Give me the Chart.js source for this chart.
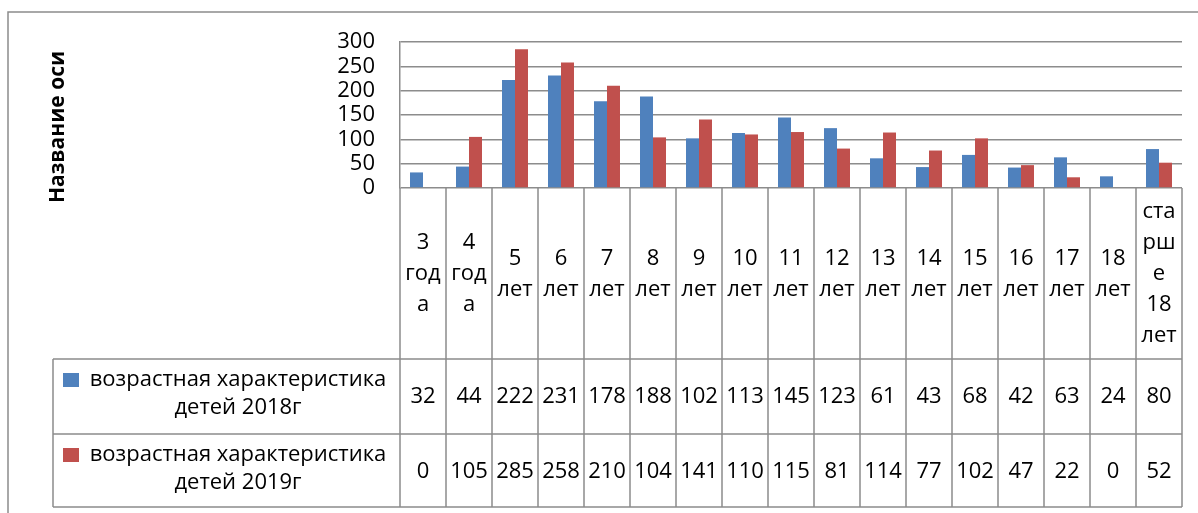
<!DOCTYPE html>
<html>
<head>
<meta charset="utf-8">
<script src="https://cdn.jsdelivr.net/npm/chart.js@4"></script>
<style>
  html, body { margin: 0; padding: 0; background: #fff; }
  #wrap { width: 1198px; height: 513px; }
</style>
</head>
<body>
<div id="wrap"><canvas id="ageChart" width="1198" height="513" aria-label="Возрастная характеристика детей" role="img"></canvas></div>
<script>
// categories (with the line breaks as they appear in the table)
const categories = ['3 года', '4 года', '5 лет', '6 лет', '7 лет', '8 лет', '9 лет', '10 лет', '11 лет',
    '12 лет', '13 лет', '14 лет', '15 лет', '16 лет', '17 лет', '18 лет', 'старше 18 лет'];
const categoryLines = [['3', 'год', 'а'], ['4', 'год', 'а'], ['5', 'лет'], ['6', 'лет'], ['7', 'лет'],
    ['8', 'лет'], ['9', 'лет'], ['10', 'лет'], ['11', 'лет'], ['12', 'лет'], ['13', 'лет'], ['14', 'лет'],
    ['15', 'лет'], ['16', 'лет'], ['17', 'лет'], ['18', 'лет'], ['ста', 'рш', 'е', '18', 'лет']];

const series2018 = [32, 44, 222, 231, 178, 188, 102, 113, 145, 123, 61, 43, 68, 42, 63, 24, 80];
const series2019 = [0, 105, 285, 258, 210, 104, 141, 110, 115, 81, 114, 77, 102, 47, 22, 0, 52];

const seriesNames = ['возрастная характеристика детей 2018г', 'возрастная характеристика детей 2019г'];
const seriesNameLines = [['возрастная характеристика', 'детей 2018г'], ['возрастная характеристика', 'детей 2019г']];
const seriesColors = ['#4F81BD', '#C0504D'];

const yTicks = [0, 50, 100, 150, 200, 250, 300];
const axisTitle = 'Название оси';

const lineColor = '#8c8c8c';
const fontFamily = '"Open Sans", "DejaVu Sans", sans-serif';

// frame, axis title and the data table under the plot
const tablePlugin = {
    id: 'excelTable',
    beforeDraw(chart) {
        const ctx = chart.ctx;
        ctx.save();
        ctx.strokeStyle = lineColor;
        ctx.lineWidth = 1.5;
        ctx.beginPath();
        ctx.moveTo(8, 513);
        ctx.lineTo(8, 12);
        ctx.lineTo(1198, 12);
        ctx.stroke();
        ctx.restore();
    },
    afterDraw(chart) {
        const ctx = chart.ctx;
        const area = chart.chartArea;
        const n = categories.length;
        const colW = (area.right - area.left) / n;
        const rowTop = [359, 434];
        const tableBottom = 507;
        const legendLeft = 53;

        ctx.save();

        // axis title
        ctx.translate(58, 127);
        ctx.rotate(-Math.PI / 2);
        ctx.font = 'bold 21px ' + fontFamily;
        ctx.fillStyle = '#000';
        ctx.textAlign = 'center';
        ctx.textBaseline = 'middle';
        ctx.fillText(axisTitle, 0, 0);
        ctx.setTransform(1, 0, 0, 1, 0, 0);

        // grid of the table
        ctx.strokeStyle = lineColor;
        ctx.lineWidth = 1.5;
        ctx.beginPath();
        [rowTop[0], rowTop[1], tableBottom].forEach(y => {
            ctx.moveTo(legendLeft, y);
            ctx.lineTo(area.right, y);
        });
        ctx.moveTo(legendLeft, rowTop[0]);
        ctx.lineTo(legendLeft, tableBottom);
        for (let i = 0; i <= n; i++) {
            const x = area.left + i * colW;
            ctx.moveTo(x, area.bottom);
            ctx.lineTo(x, tableBottom);
        }
        ctx.stroke();

        ctx.fillStyle = '#000';
        ctx.textAlign = 'center';
        ctx.textBaseline = 'middle';
        ctx.font = '22px ' + fontFamily;

        // category labels
        const lh = 31;
        const midY = 274;
        categoryLines.forEach((lines, i) => {
            const cx = chart.scales.x.getPixelForValue(i);
            const y0 = midY - (lines.length - 1) * lh / 2;
            lines.forEach((t, k) => ctx.fillText(t, cx, y0 + k * lh));
        });

        // series rows
        [series2018, series2019].forEach((vals, s) => {
            const top = rowTop[s];
            // legend key
            ctx.fillStyle = seriesColors[s];
            ctx.fillRect(63, top + 14, 16, 14);
            ctx.fillStyle = '#000';
            ctx.fillText(seriesNameLines[s][0], 238, top + 21);
            ctx.fillText(seriesNameLines[s][1], 238, top + 49);
            vals.forEach((v, i) => {
                const cx = chart.scales.x.getPixelForValue(i);
                ctx.fillText(String(v), cx, top + 38);
            });
        });

        ctx.restore();
    }
};

const ctx = document.getElementById('ageChart').getContext('2d');
new Chart(ctx, {
    type: 'bar',
    data: {
        labels: categories,
        datasets: [{
            label: seriesNames[0],
            data: series2018,
            backgroundColor: seriesColors[0],
            borderWidth: 0
        }, {
            label: seriesNames[1],
            data: series2019,
            backgroundColor: seriesColors[1],
            borderWidth: 0
        }]
    },
    options: {
        responsive: false,
        animation: false,
        layout: { padding: { left: 0, right: 16, top: 42, bottom: 325 } },
        datasets: { bar: { categoryPercentage: 0.565, barPercentage: 1.0 } },
        plugins: {
            legend: { display: false },
            tooltip: { enabled: false }
        },
        scales: {
            x: { display: false },
            y: {
                min: 0,
                max: 300,
                afterFit(scale) { scale.width = 400; },
                afterBuildTicks(scale) { scale.ticks = yTicks.map(v => ({ value: v })); },
                ticks: {
                    autoSkip: false,
                    padding: 25,
                    color: '#000',
                    font: { family: fontFamily, size: 22 }
                },
                grid: { color: lineColor, lineWidth: 1.5, drawTicks: false },
                border: { color: lineColor, width: 1.5 }
            }
        }
    },
    plugins: [tablePlugin]
});
</script>
</body>
</html>
